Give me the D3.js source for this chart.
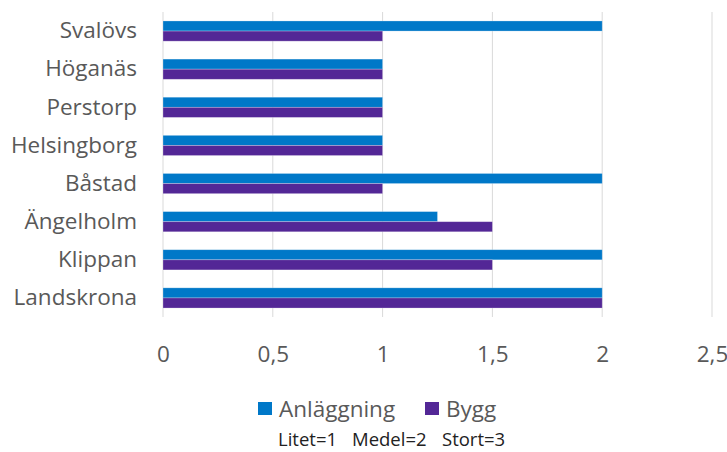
<!DOCTYPE html>
<html>
<head>
<meta charset="utf-8">
<script src="https://cdn.jsdelivr.net/npm/d3@7"></script>
<style>
  body { margin: 0; background: #fff; }
  text { font-family: "Open Sans", sans-serif; }
</style>
</head>
<body>
<svg id="chart" width="727" height="452"></svg>
<script>
const categories = ["Svalövs", "Höganäs", "Perstorp", "Helsingborg", "Båstad", "Ängelholm", "Klippan", "Landskrona"];
const series = ["Anläggning", "Bygg"];
const anlaggning = [2, 1, 1, 1, 2, 1.25, 2, 2];
const bygg = [1, 1, 1, 1, 1, 1.5, 1.5, 2];
const xTicks = [0, 0.5, 1, 1.5, 2, 2.5];
const colors = ["#0078C8", "#532796"];
const noteParts = ["Litet=1", "Medel=2", "Stort=3"];

const data = categories.map((c, i) => ({ cat: c, values: [anlaggning[i], bygg[i]] }));

const margin = { top: 12, right: 15, bottom: 135, left: 164 },
    width = 727, height = 452;

const svg = d3.select("#chart");

const x = d3.scaleLinear()
    .domain([0, 2.5])
    .range([margin.left - 1, 712]);

const y = d3.scaleBand()
    .domain(categories)
    .range([margin.top, height - margin.bottom])
    .paddingInner(0.47)
    .paddingOuter(0.235);

const y1 = d3.scaleBand()
    .domain(series)
    .range([0, y.bandwidth()]);

// gridlines
svg.append("g")
    .selectAll("line")
    .data(xTicks)
    .join("line")
    .attr("x1", d => x(d)).attr("x2", d => x(d))
    .attr("y1", margin.top).attr("y2", height - margin.bottom)
    .attr("stroke", "#d9d9d9")
    .attr("stroke-width", 1);

// bars
svg.append("g")
    .selectAll("g")
    .data(data)
    .join("g")
    .attr("transform", d => `translate(0,${y(d.cat)})`)
    .selectAll("rect")
    .data(d => d.values.map((v, i) => ({ key: series[i], value: v, i })))
    .join("rect")
    .attr("x", x(0))
    .attr("y", d => y1(d.key))
    .attr("width", d => x(d.value) - x(0))
    .attr("height", y1.bandwidth())
    .attr("fill", d => colors[d.i])
    .attr("stroke", "#ffffff")
    .attr("stroke-opacity", 0.35)
    .attr("stroke-width", 0.75);

// y axis labels
svg.append("g")
    .attr("transform", `translate(${margin.left - 27},0)`)
    .call(d3.axisLeft(y).tickSize(0).tickPadding(0))
    .call(g => g.select(".domain").remove())
    .call(g => g.selectAll("text")
        .attr("font-size", 22.5)
        .attr("fill", "#595959")
        .style("font-family", "'Open Sans', sans-serif"));

// x axis labels
svg.append("g")
    .attr("transform", `translate(0,${height - margin.bottom})`)
    .call(d3.axisBottom(x).tickValues(xTicks).tickSize(0).tickPadding(29)
        .tickFormat(d => String(d).replace(".", ",")))
    .call(g => g.select(".domain").remove())
    .call(g => g.selectAll("text")
        .attr("font-size", 22.5)
        .attr("fill", "#595959")
        .style("font-family", "'Open Sans', sans-serif"));

// legend
const legend = svg.append("g").attr("transform", "translate(258,402)");
const legX = [0, 167];
series.forEach((s, i) => {
    const g = legend.append("g").attr("transform", `translate(${legX[i]},0)`);
    g.append("rect").attr("width", 14).attr("height", 13).attr("fill", colors[i]);
    g.append("text")
        .attr("x", 21).attr("y", 15)
        .attr("font-size", 22.5)
        .attr("fill", "#595959")
        .text(s);
});

// note
const noteX = [278, 352, 442];
svg.append("g")
    .selectAll("text")
    .data(noteParts)
    .join("text")
    .attr("x", (d, i) => noteX[i]).attr("y", 446)
    .attr("font-size", 18.5)
    .attr("fill", "#222")
    .text(d => d);
</script>
</body>
</html>
